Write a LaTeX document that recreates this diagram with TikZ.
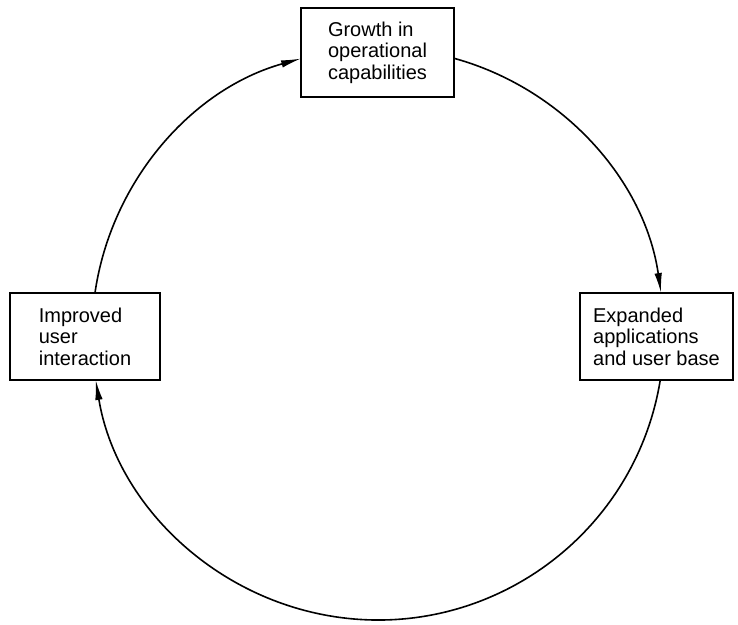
\documentclass[tikz,border=0pt]{standalone}
\usepackage{fontspec}
\setmainfont{Liberation Sans}
\usetikzlibrary{arrows.meta}
\newcommand{\ringr}{286pt}
\tikzset{
    stagebox/.style={rectangle,draw,line width=1.3pt,align=left,inner sep=0pt,
        font=\fontsize{20}{21.5}\selectfont,minimum height=87pt},
    cycleline/.style={-{Latex[length=20pt,width=7.5pt]},line width=1.6pt}
}
\begin{document}
\begin{tikzpicture}[x=1pt,y=1pt]
        \useasboundingbox (0,0) rectangle (738,624);
        \coordinate (hub) at (378,290);
        \node[stagebox,minimum width=153pt,minimum height=89pt] (grow) at (377.5,571.5) {Growth in\\operational\\capabilities};
        \node[stagebox,minimum width=150pt] (user) at (85,287.5) {Improved\\user\\interaction};
        \node[stagebox,minimum width=153pt] (apps) at (656.5,287.5) {Expanded\\applications\\and user base};
        % arcs of the ring between the boxes
        \draw[cycleline] (hub) ++(171.76:\ringr) arc[start angle=171.76,end angle=105.6,radius=\ringr];
        \draw[cycleline] (hub) ++(74.59:\ringr) arc[start angle=74.59,end angle=8.24,radius=\ringr];
        \draw[cycleline] (hub) ++(-9.25:\ringr) arc[start angle=-9.25,end angle=-170.75,radius=\ringr];
    \end{tikzpicture}
\end{document}
